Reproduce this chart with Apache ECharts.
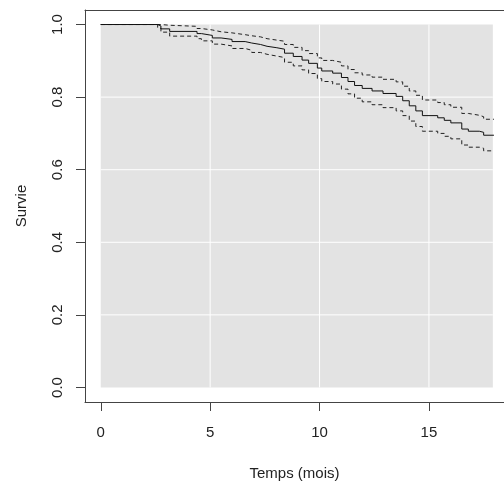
<!DOCTYPE html>
<html><head><meta charset="utf-8">
<script src="https://cdn.jsdelivr.net/npm/echarts@6/dist/echarts.min.js"></script>
<style>html,body{margin:0;padding:0;background:#fff}#c{width:504px;height:486px}</style>
</head><body><div id="c"></div>
<script>
// Tick labels / reference lines
const xTicks = [0, 5, 10, 15];
const yTicks = [0, 0.2, 0.4, 0.6, 0.8, 1.0];
const xGridLines = [5, 10, 15];
const yGridLines = [0.2, 0.4, 0.6, 0.8];
const panelX = [0, 17.92];
const panelY = [0, 1];

// Kaplan-Meier estimate and confidence bounds
const times  = [0, 2.6, 2.75, 3.15, 4.4, 4.6, 5.1, 5.5, 6.0, 6.6, 6.9, 7.3, 7.6, 8.05, 8.4, 8.8, 9.2, 9.5, 9.9, 10.1, 10.6, 11.0, 11.3, 11.6, 11.95, 12.4, 12.9, 13.5, 13.8, 14.1, 14.4, 14.7, 15.4, 15.7, 16.0, 16.5, 16.8, 17.3, 17.5, 17.97];
const survie = [1.0, 0.996, 0.988, 0.981, 0.975, 0.970, 0.963, 0.959, 0.953, 0.949, 0.945, 0.940, 0.936, 0.932, 0.921, 0.912, 0.902, 0.893, 0.880, 0.872, 0.866, 0.854, 0.843, 0.832, 0.824, 0.817, 0.810, 0.802, 0.790, 0.776, 0.762, 0.749, 0.743, 0.736, 0.729, 0.712, 0.706, 0.703, 0.695, 0.695];
const upper  = [1.0, 1.0, 0.998, 0.995, 0.989, 0.985, 0.980, 0.977, 0.972, 0.969, 0.966, 0.961, 0.957, 0.954, 0.945, 0.937, 0.928, 0.920, 0.908, 0.901, 0.896, 0.886, 0.876, 0.867, 0.861, 0.855, 0.849, 0.842, 0.830, 0.817, 0.805, 0.792, 0.785, 0.779, 0.772, 0.755, 0.750, 0.746, 0.739, 0.739];
const lower  = [1.0, 0.990, 0.979, 0.968, 0.961, 0.955, 0.946, 0.941, 0.934, 0.929, 0.923, 0.918, 0.913, 0.909, 0.896, 0.886, 0.875, 0.865, 0.851, 0.843, 0.836, 0.822, 0.809, 0.797, 0.787, 0.779, 0.771, 0.762, 0.749, 0.734, 0.719, 0.706, 0.700, 0.692, 0.685, 0.668, 0.662, 0.659, 0.652, 0.652];

const font = '"Liberation Sans", Arial, sans-serif';
const axisColor = '#444';
const textColor = '#222';
const pair = vals => times.map((t, i) => [t, vals[i]]);

const series = [];
// gray panel
series.push({
  type: 'line', data: [], silent: true, animation: false,
  markArea: { silent: true, itemStyle: { color: '#e3e3e3' },
    data: [[{ coord: [panelX[0], panelY[0]] }, { coord: [panelX[1], panelY[1]] }]] }
});
// white grid lines inside the panel
xGridLines.forEach(x => series.push({
  type: 'line', data: [[x, panelY[0]], [x, panelY[1]]], symbol: 'none', silent: true, animation: false,
  lineStyle: { color: '#ffffff', width: 1 }
}));
yGridLines.forEach(y => series.push({
  type: 'line', data: [[panelX[0], y], [panelX[1], y]], symbol: 'none', silent: true, animation: false,
  lineStyle: { color: '#ffffff', width: 1 }
}));
// curves
series.push({ type: 'line', step: 'end', data: pair(upper), symbol: 'none', animation: false,
  lineStyle: { color: '#222', width: 1, type: [4, 3] } });
series.push({ type: 'line', step: 'end', data: pair(lower), symbol: 'none', animation: false,
  lineStyle: { color: '#222', width: 1, type: [4, 3] } });
series.push({ type: 'line', step: 'end', data: pair(survie), symbol: 'none', animation: false,
  lineStyle: { color: '#111', width: 1 } });

const chart = echarts.init(document.getElementById('c'), null, { renderer: 'canvas' });
chart.setOption({
  animation: false,
  backgroundColor: '#fff',
  grid: { left: 85, top: 10, right: 0, bottom: 80, show: false },
  xAxis: [{
    type: 'value', min: -0.72, max: 18.43,
    name: 'Temps (mois)', nameLocation: 'middle', nameGap: 64,
    nameTextStyle: { fontFamily: font, fontSize: 15, color: textColor },
    axisLine: { show: true, onZero: false, lineStyle: { color: axisColor, width: 1 } },
    splitLine: { show: false },
    axisTick: { show: true, customValues: xTicks, length: 9, lineStyle: { color: axisColor } },
    axisLabel: { customValues: xTicks, fontFamily: font, fontSize: 15, color: textColor, margin: 23 }
  }, {
    type: 'value', position: 'top', min: -0.72, max: 18.43,
    axisLine: { show: true, onZero: false, lineStyle: { color: axisColor, width: 1 } },
    axisTick: { show: false }, axisLabel: { show: false }, splitLine: { show: false }
  }],
  yAxis: {
    type: 'value', min: -0.04, max: 1.04,
    name: 'Survie', nameLocation: 'middle', nameGap: 56, nameRotate: 90,
    nameTextStyle: { fontFamily: font, fontSize: 15, color: textColor },
    axisLine: { show: true, onZero: false, lineStyle: { color: axisColor, width: 1 } },
    splitLine: { show: false },
    axisTick: { show: true, customValues: yTicks, length: 9, lineStyle: { color: axisColor } },
    axisLabel: { customValues: yTicks, rotate: 90, fontFamily: font, fontSize: 15, color: textColor, margin: 20,
      formatter: v => v.toFixed(1) }
  },
  series: series
});
</script>
</body></html>
